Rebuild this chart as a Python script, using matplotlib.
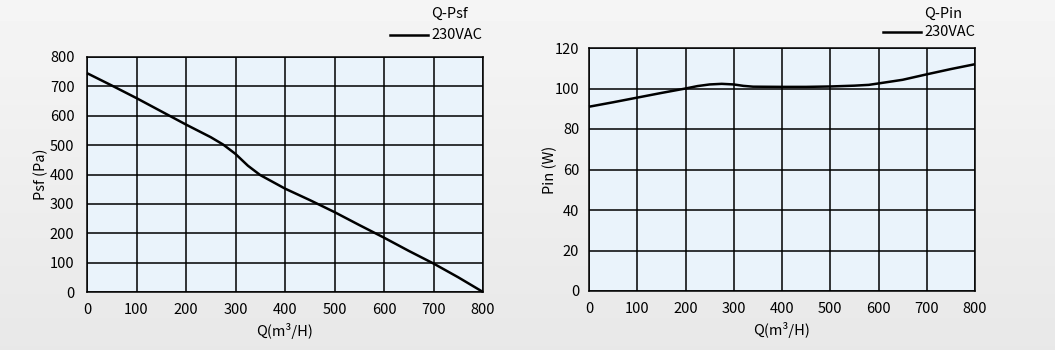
import matplotlib
matplotlib.use("Agg")
import matplotlib.pyplot as plt
from matplotlib.lines import Line2D
import numpy as np

# Q-Psf curve
Q_PSF = [0, 50, 100, 150, 200, 250, 275, 300, 325, 350, 400, 450, 500, 550, 600, 650, 700, 750, 800]
PSF = [745, 703, 660, 615, 570, 527, 502, 470, 430, 398, 352, 313, 272, 228, 185, 140, 97, 50, 0]

# Q-Pin curve
Q_PIN = [0, 50, 100, 150, 200, 225, 250, 275, 300, 320, 340, 400, 450, 500, 550, 580, 600, 650, 700, 750, 800]
PIN = [91, 93.2, 95.5, 97.8, 100, 101.2, 102, 102.3, 102, 101.3, 100.9, 100.8, 100.8, 101, 101.4, 101.8, 102.5, 104.3, 107, 109.6, 112]

X_TICKS = [0, 100, 200, 300, 400, 500, 600, 700, 800]
PSF_TICKS = [0, 100, 200, 300, 400, 500, 600, 700, 800]
PIN_TICKS = [0, 20, 40, 60, 80, 100, 120]

plt.rcParams["font.family"] = ["Noto Sans CJK SC", "Noto Sans", "DejaVu Sans"]
plt.rcParams["font.size"] = 10.5

FACE = "#eaf3fb"
W, H = 1055, 350

fig = plt.figure(figsize=(10.55, 3.5), dpi=100)

# soft grey background gradient
bg = fig.add_axes([0, 0, 1, 1], zorder=-10)
bg.imshow(np.linspace(0.96, 0.91, 100)[:, None], cmap="gray", vmin=0, vmax=1,
          aspect="auto", extent=[0, 1, 0, 1])
bg.axis("off")

ax1 = fig.add_axes([87 / W, 1 - 292 / H, 396 / W, 235 / H])
ax2 = fig.add_axes([589 / W, 1 - 291 / H, 386 / W, 243 / H])


def px(x, y):
    return x / W, 1 - y / H


def style(ax, yticks, ylabel, ypad, ylabelpad, xs, ys):
    ax.set_facecolor(FACE)
    ax.plot(xs, ys, color="black", lw=1.8, solid_capstyle="butt", clip_on=False)
    ax.set_xlim(0, 800)
    ax.set_ylim(yticks[0], yticks[-1])
    ax.set_xticks(X_TICKS)
    ax.set_yticks(yticks)
    ax.grid(True, color="black", lw=1.1)
    ax.set_axisbelow(True)
    for s in ax.spines.values():
        s.set_linewidth(1.1)
    ax.tick_params(axis="x", length=0, pad=8)
    ax.tick_params(axis="y", length=0, pad=ypad)
    ax.set_xlabel("Q(m³/H)", labelpad=4)
    ax.set_ylabel(ylabel, labelpad=ylabelpad)


def legend(title, line_x0, line_x1, y_title, y_line):
    fig.text(*px(line_x1 + 3, y_title), title, ha="left", va="center")
    fig.add_artist(Line2D([line_x0 / W, line_x1 / W], [1 - y_line / H] * 2,
                          color="black", lw=1.8, transform=fig.transFigure))
    fig.text(*px(line_x1 + 3, y_line), "230VAC", ha="left", va="center")


style(ax1, PSF_TICKS, "Psf (Pa)", 9, 1, Q_PSF, PSF)
style(ax2, PIN_TICKS, "Pin (W)", 7, -2, Q_PIN, PIN)

legend("Q-Psf", 390, 428, 14, 35)
legend("Q-Pin", 883, 921, 14, 32)

fig.savefig("out.png", dpi=100)
